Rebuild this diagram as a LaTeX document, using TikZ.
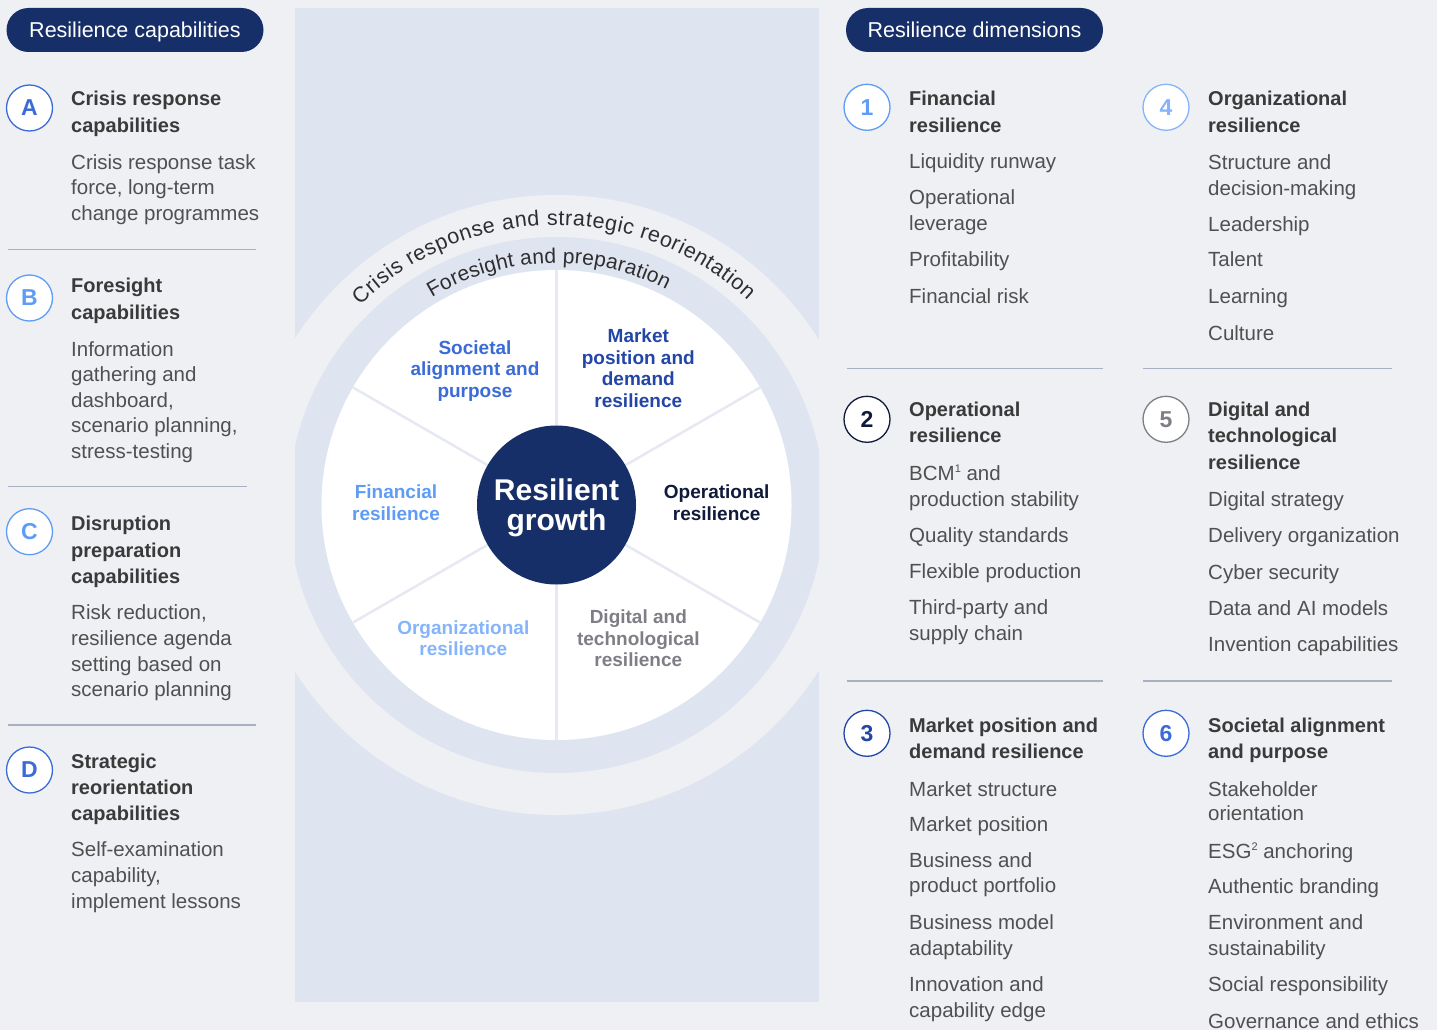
\documentclass[tikz,border=0pt]{standalone}
\usepackage{fontspec}
\setmainfont{Liberation Sans}
\usetikzlibrary{decorations.text}

\definecolor{bg}{HTML}{EFF0F4}
\definecolor{panel}{HTML}{DFE5F0}
\definecolor{navy}{HTML}{172F68}
\definecolor{headc}{HTML}{3A3A3A}
\definecolor{bodyc}{HTML}{505050}
\definecolor{rulec}{HTML}{A8B0C2}
\definecolor{spoke}{HTML}{E6E9F1}
\definecolor{ringtext}{HTML}{2E2E2E}
\definecolor{cMid}{HTML}{3B6BD6}
\definecolor{cDark}{HTML}{2346A6}
\definecolor{cLight}{HTML}{5E9CF5}
\definecolor{cPale}{HTML}{86B4FA}
\definecolor{cNavy}{HTML}{101A3A}
\definecolor{cGray}{HTML}{7E7F85}

% one line of text, left-aligned on its baseline
\newcounter{lineno}
\newcommand\txtL[4]{\stepcounter{lineno}\node[#3, anchor=base west] (line\arabic{lineno}) at (#1,-#2) {#4};}
% one line of text, centred on its baseline
\newcommand\txtC[4]{\stepcounter{lineno}\node[#3, anchor=base] (line\arabic{lineno}) at (#1,-#2) {#4};}
\newcommand\supnum[1]{\raisebox{7.5pt}{\fontsize{11}{11}\selectfont #1}}

\tikzset{
  head/.style={font=\fontsize{20}{24}\selectfont\bfseries, text=headc, inner sep=0pt},
  body/.style={font=\fontsize{20.5}{25}\selectfont, text=bodyc, inner sep=0pt},
  wheel/.style={font=\fontsize{19}{22}\selectfont\bfseries, inner sep=0pt},
  badge/.style={circle, draw=#1, text=#1, fill=white, line width=1.3pt,
    minimum size=46pt, inner sep=0pt, font=\fontsize{23}{23}\selectfont\bfseries},
  pill/.style={fill=navy, rounded corners=22pt, minimum height=44pt, inner sep=0pt,
    text=white, font=\fontsize{21.5}{24}\selectfont, text height=14.5pt, text depth=0pt},
  rule/.style={draw=rulec, line width=1.3pt},
  spokeline/.style={draw=spoke, line width=2.5pt},
}

\begin{document}
\begin{tikzpicture}[x=1pt, y=1pt]
\useasboundingbox (0,0) rectangle (1437,-1030);
\fill[bg] (0,0) rectangle (1437,-1030);

% ---------- central panel and wheel ----------
\fill[panel] (295,-8) rectangle (819,-1002);
\coordinate (c) at (556.5,-505);
\begin{scope}
  \clip (295,-8) rectangle (819,-1002);
  \fill[bg] (c) circle[radius=310pt];
  \fill[panel] (c) circle[radius=268pt];
  \fill[white] (c) circle[radius=235pt];
\end{scope}
\foreach \a in {30,90,...,330} \draw[spokeline] (c) -- ++(\a:235pt);
\node[circle, fill=navy, minimum size=159pt, inner sep=0pt] (core) at (c) {};
\txtC{556.5}{500}{font=\fontsize{30}{34}\selectfont\bfseries, text=white, inner sep=0pt}{Resilient}
\txtC{556.5}{530.7}{font=\fontsize{30}{34}\selectfont\bfseries, text=white, inner sep=0pt}{growth}

% ring captions
\path[decorate, decoration={text along path, text align={fit to path},
  text={|\fontsize{21.5}{24}\selectfont\color{ringtext}|Crisis response and strategic reorientation}}]
  (c) ++(134.5:280pt) arc[start angle=134.5, end angle=47, radius=280pt];
\path[decorate, decoration={text along path, text align={fit to path},
  text={|\fontsize{21}{24}\selectfont\color{ringtext}|Foresight and preparation}}]
  (c) ++(121:242pt) arc[start angle=121, end angle=63, radius=242pt];

% sector labels
\txtC{475}{354.3}{wheel, text=cMid}{Societal}
\txtC{475}{375.8}{wheel, text=cMid}{alignment and}
\txtC{475}{397}{wheel, text=cMid}{purpose}
\txtC{638.3}{342.7}{wheel, text=cDark}{Market}
\txtC{638.3}{364}{wheel, text=cDark}{position and}
\txtC{638.3}{385.5}{wheel, text=cDark}{demand}
\txtC{638.3}{407}{wheel, text=cDark}{resilience}
\txtC{396}{498.3}{wheel, text=cLight}{Financial}
\txtC{396}{520}{wheel, text=cLight}{resilience}
\txtC{716.7}{498.3}{wheel, text=cNavy}{Operational}
\txtC{716.7}{520}{wheel, text=cNavy}{resilience}
\txtC{463.3}{634}{wheel, text=cPale}{Organizational}
\txtC{463.3}{655.5}{wheel, text=cPale}{resilience}
\txtC{638.3}{623.3}{wheel, text=cGray}{Digital and}
\txtC{638.3}{645}{wheel, text=cGray}{technological}
\txtC{638.3}{666.5}{wheel, text=cGray}{resilience}

% ---------- left column: capabilities ----------
\node[pill, minimum width=257pt] (capHead) at (135,-30) {Resilience capabilities};

\node[badge=cMid] (capA) at (29.5,-108) {A};
\txtL{71}{106}{head}{Crisis response}
\txtL{71}{132.5}{head}{capabilities}
\txtL{71}{169}{body}{Crisis response task}
\txtL{71}{194.5}{body}{force, long-term}
\txtL{71}{220}{body}{change programmes}
\draw[rule] (8,-249.5) -- (256,-249.5);

\node[badge=cLight] (capB) at (29.5,-298) {B};
\txtL{71}{292.7}{head}{Foresight}
\txtL{71}{319}{head}{capabilities}
\txtL{71}{356}{body}{Information}
\txtL{71}{381.7}{body}{gathering and}
\txtL{71}{407}{body}{dashboard,}
\txtL{71}{432.7}{body}{scenario planning,}
\txtL{71}{458}{body}{stress-testing}
\draw[rule] (8,-486.5) -- (247,-486.5);

\node[badge=cLight] (capC) at (29.5,-531.7) {C};
\txtL{71}{530.7}{head}{Disruption}
\txtL{71}{557}{head}{preparation}
\txtL{71}{583}{head}{capabilities}
\txtL{71}{619}{body}{Risk reduction,}
\txtL{71}{645.5}{body}{resilience agenda}
\txtL{71}{671}{body}{setting based on}
\txtL{71}{696.7}{body}{scenario planning}
\draw[rule] (8,-725) -- (256,-725);

\node[badge=cMid] (capD) at (29.5,-770) {D};
\txtL{71}{768.3}{head}{Strategic}
\txtL{71}{794}{head}{reorientation}
\txtL{71}{820}{head}{capabilities}
\txtL{71}{856.7}{body}{Self-examination}
\txtL{71}{882}{body}{capability,}
\txtL{71}{908}{body}{implement lessons}

% ---------- right columns: dimensions ----------
\node[pill, minimum width=257pt] (dimHead) at (974.5,-30) {Resilience dimensions};

\node[badge=cLight] (dim1) at (867,-107.3) {1};
\txtL{909}{106}{head}{Financial}
\txtL{909}{132.7}{head}{resilience}
\txtL{909}{168.3}{body}{Liquidity runway}
\txtL{909}{204.3}{body}{Operational}
\txtL{909}{230}{body}{leverage}
\txtL{909}{266.7}{body}{Profitability}
\txtL{909}{303.3}{body}{Financial risk}
\draw[rule] (846.7,-368.3) -- (1103,-368.3);

\node[badge=cNavy] (dim2) at (867,-419.3) {2};
\txtL{909}{416.7}{head}{Operational}
\txtL{909}{442.7}{head}{resilience}
\txtL{909}{480}{body}{BCM\supnum{1} and}
\txtL{909}{506}{body}{production stability}
\txtL{909}{542.7}{body}{Quality standards}
\txtL{909}{578.3}{body}{Flexible production}
\txtL{909}{614.3}{body}{Third-party and}
\txtL{909}{640}{body}{supply chain}
\draw[rule] (846.7,-681) -- (1103,-681);

\node[badge=cDark] (dim3) at (867,-733.3) {3};
\txtL{909}{732.7}{head}{Market position and}
\txtL{909}{758.3}{head}{demand resilience}
\txtL{909}{796}{body}{Market structure}
\txtL{909}{831.7}{body}{Market position}
\txtL{909}{867.7}{body}{Business and}
\txtL{909}{892.7}{body}{product portfolio}
\txtL{909}{929.3}{body}{Business model}
\txtL{909}{955}{body}{adaptability}
\txtL{909}{991.7}{body}{Innovation and}
\txtL{909}{1017.3}{body}{capability edge}

\node[badge=cPale] (dim4) at (1166,-107.3) {4};
\txtL{1208}{105.7}{head}{Organizational}
\txtL{1208}{132.7}{head}{resilience}
\txtL{1208}{169}{body}{Structure and}
\txtL{1208}{195}{body}{decision-making}
\txtL{1208}{231}{body}{Leadership}
\txtL{1208}{266.7}{body}{Talent}
\txtL{1208}{303.3}{body}{Learning}
\txtL{1208}{340}{body}{Culture}
\draw[rule] (1143,-368.3) -- (1392,-368.3);

\node[badge=cGray] (dim5) at (1166,-419.3) {5};
\txtL{1208}{416.7}{head}{Digital and}
\txtL{1208}{442.7}{head}{technological}
\txtL{1208}{469.3}{head}{resilience}
\txtL{1208}{506.7}{body}{Digital strategy}
\txtL{1208}{542.7}{body}{Delivery organization}
\txtL{1208}{579}{body}{Cyber security}
\txtL{1208}{615}{body}{Data and AI models}
\txtL{1208}{651.7}{body}{Invention capabilities}
\draw[rule] (1143,-681) -- (1392,-681);

\node[badge=cMid] (dim6) at (1166,-733.3) {6};
\txtL{1208}{732.7}{head}{Societal alignment}
\txtL{1208}{758.3}{head}{and purpose}
\txtL{1208}{796}{body}{Stakeholder}
\txtL{1208}{820.7}{body}{orientation}
\txtL{1208}{858.3}{body}{ESG\supnum{2} anchoring}
\txtL{1208}{893.3}{body}{Authentic branding}
\txtL{1208}{929.3}{body}{Environment and}
\txtL{1208}{955}{body}{sustainability}
\txtL{1208}{991.7}{body}{Social responsibility}
\txtL{1208}{1028}{body}{Governance and ethics}
\end{tikzpicture}
\end{document}
